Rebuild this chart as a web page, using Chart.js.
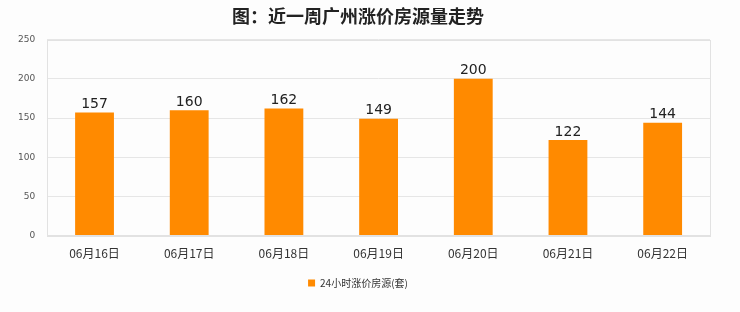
<!DOCTYPE html>
<html>
<head>
<meta charset="utf-8">
<script src="https://cdn.jsdelivr.net/npm/chart.js@4/dist/chart.umd.min.js"></script>
<style>
  html, body { margin: 0; padding: 0; background: #fdfdfd; }
</style>
</head>
<body>
<canvas id="c" width="740" height="312"></canvas>
<script>
    const dates = ['06月16日', '06月17日', '06月18日', '06月19日', '06月20日', '06月21日', '06月22日'];
    const counts = [157, 160, 162, 149, 200, 122, 144];
    const yTicks = [0, 50, 100, 150, 200, 250];

    // 柱顶数值 + 绘图区边框
    const barLabels = {
        id: 'barLabels',
        beforeDatasetsDraw(chart) {
            const a = chart.chartArea, ctx = chart.ctx;
            ctx.save();
            ctx.strokeStyle = '#e2e2e2';
            ctx.lineWidth = 1;
            ctx.strokeRect(Math.round(a.left) + 0.5, Math.round(a.top) + 0.5, Math.round(a.right - a.left), Math.round(a.bottom - a.top));
            ctx.restore();
        },
        afterDatasetsDraw(chart) {
            const ctx = chart.ctx;
            ctx.save();
            ctx.font = '14px "DejaVu Sans", sans-serif';
            ctx.fillStyle = '#222';
            ctx.textAlign = 'center';
            ctx.textBaseline = 'bottom';
            chart.getDatasetMeta(0).data.forEach((bar, i) => {
                ctx.fillText(counts[i], bar.x, bar.y - 1);
            });
            ctx.restore();
        }
    };

    const ctx = document.getElementById('c').getContext('2d');
    const chart = new Chart(ctx, {
        type: 'bar',
        data: {
            labels: dates,
            datasets: [{
                label: '24小时涨价房源(套)',
                data: counts,
                backgroundColor: '#ff8a00',
                borderWidth: 0,
                barPercentage: 0.41,
                categoryPercentage: 1
            }]
        },
        options: {
            responsive: false,
            animation: false,
            layout: { padding: { left: 6, right: 30, top: 0, bottom: 14 } },
            plugins: {
                title: {
                    display: true,
                    text: '图：近一周广州涨价房源量走势',
                    font: { size: 18, weight: 'bold', family: '"Noto Sans CJK SC", sans-serif' },
                    color: '#222',
                    padding: { top: 5, bottom: 13 }
                },
                legend: {
                    position: 'bottom',
                    labels: {
                        boxWidth: 7, boxHeight: 7,
                        color: '#333',
                        font: { size: 10, family: '"Noto Sans CJK SC", sans-serif' },
                        padding: 14
                    }
                },
                tooltip: { enabled: false }
            },
            scales: {
                x: {
                    grid: { display: false },
                    border: { color: '#e2e2e2' },
                    ticks: { color: '#333', padding: 3, font: { size: 12, family: '"Noto Sans CJK SC", sans-serif' } }
                },
                y: {
                    min: 0, max: 250,
                    afterBuildTicks: axis => { axis.ticks = yTicks.map(v => ({ value: v })); },
                    grid: { color: '#e6e6e6', drawTicks: false },
                    border: { display: false },
                    ticks: { color: '#555', font: { size: 9, family: '"DejaVu Sans", sans-serif' }, padding: 12 }
                }
            }
        },
        plugins: [barLabels]
    });
</script>
</body>
</html>
